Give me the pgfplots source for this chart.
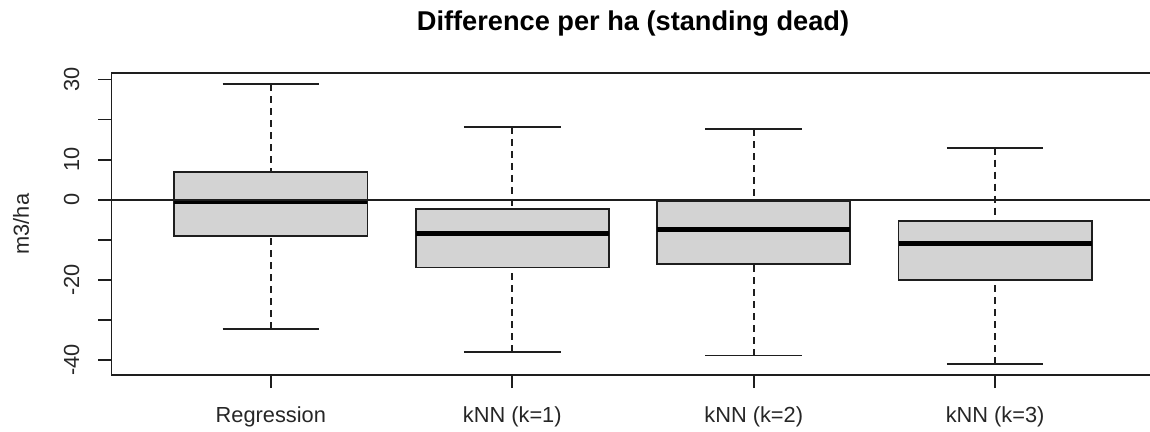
\documentclass[border=0pt]{standalone}
\usepackage{pgfplots}
\pgfplotsset{compat=1.18}
\usepgfplotslibrary{statistics}
\usepackage{fontspec}
\setmainfont{Liberation Sans}
\definecolor{boxgray}{RGB}{211,211,211}
\definecolor{linecol}{RGB}{30,30,30}
\pgfplotsset{
  /pgfplots/boxplot/draw/lower whisker/.code={%
    \draw[linecol, line width=0.9bp, dash pattern=on 3.5bp off 2.5bp]
      (boxplot cs:\pgfplotsboxplotvalue{lower whisker}) -- (boxplot cs:\pgfplotsboxplotvalue{lower quartile});
    \draw[linecol, line width=0.9bp, solid]
      (boxplot whisker cs:\pgfplotsboxplotvalue{lower whisker},0) -- (boxplot whisker cs:\pgfplotsboxplotvalue{lower whisker},1);
  },
  /pgfplots/boxplot/draw/upper whisker/.code={%
    \draw[linecol, line width=0.9bp, dash pattern=on 3.5bp off 2.5bp]
      (boxplot cs:\pgfplotsboxplotvalue{upper whisker}) -- (boxplot cs:\pgfplotsboxplotvalue{upper quartile});
    \draw[linecol, line width=0.9bp, solid]
      (boxplot whisker cs:\pgfplotsboxplotvalue{upper whisker},0) -- (boxplot whisker cs:\pgfplotsboxplotvalue{upper whisker},1);
  },
  /pgfplots/boxplot/draw/box/.code={%
    \draw[fill=boxgray, draw=linecol, line width=0.9bp]
      (boxplot box cs:\pgfplotsboxplotvalue{lower quartile},0) rectangle (boxplot box cs:\pgfplotsboxplotvalue{upper quartile},1);
  },
  /pgfplots/boxplot/draw/median/.code={%
    \draw[black, line width=2.5bp, line cap=butt]
      (boxplot box cs:\pgfplotsboxplotvalue{median},0) -- (boxplot box cs:\pgfplotsboxplotvalue{median},1);
  },
}
\begin{document}
\begin{tikzpicture}
\begin{axis}[
  scale only axis, width=521.5bp, height=150.85bp,
  at={(0bp,0bp)}, anchor=south west,
  xmin=0.34, xmax=4.66, ymin=-43.75, ymax=31.55,
  axis line style={line width=0.9bp, linecol},
  every tick/.style={line width=0.9bp, linecol},
  tick align=outside, tick pos=left,
  major tick length=6.5bp,
  xtick={1,2,3,4},
  xticklabels={Regression,kNN (k=1),kNN (k=2),kNN (k=3)},
  ytick={-40,-30,-20,-10,0,10,20,30},
  yticklabels={{-40},{},{-20},{},{0},{10},{},{30}},
  tick label style={font=\fontsize{10.9bp}{13bp}\selectfont, text=black!85},
  yticklabel style={rotate=90, anchor=south},
  yticklabel shift=6bp,
  xticklabel style={anchor=north},
  xticklabel shift=6bp,
  ylabel={m3/ha},
  ylabel style={at={(axis description cs:-0.0868,0.5)}, anchor=center, font=\fontsize{10.9bp}{13bp}\selectfont, text=black!85},
  title={Difference per ha (standing dead)},
  title style={at={(axis description cs:0.5,1)}, anchor=base, yshift=15.65bp, font=\bfseries\fontsize{13.6bp}{16bp}\selectfont},
  boxplot/draw direction=y,
  boxplot/box extend=0.8,
  boxplot/whisker extend=0.4,
]
\addplot[boxplot prepared={draw position=1, lower whisker=-32.3, lower quartile=-9.06, median=-0.5, upper quartile=7.0, upper whisker=28.8}] coordinates {};
\addplot[boxplot prepared={draw position=2, lower whisker=-38.0, lower quartile=-16.9, median=-8.4, upper quartile=-2.25, upper whisker=18.2}] coordinates {};
\addplot[boxplot prepared={draw position=3, lower whisker=-38.9, lower quartile=-16.1, median=-7.4, upper quartile=-0.25, upper whisker=17.6}] coordinates {};
\addplot[boxplot prepared={draw position=4, lower whisker=-41.0, lower quartile=-20.0, median=-10.9, upper quartile=-5.3, upper whisker=13.0}] coordinates {};
\addplot[linecol, line width=0.9bp] coordinates {(0.34,0) (4.66,0)};
\end{axis}
\pgfresetboundingbox
\useasboundingbox (-55.75bp,-28.5bp) rectangle (519.25bp,187.5bp);
\end{tikzpicture}
\end{document}
